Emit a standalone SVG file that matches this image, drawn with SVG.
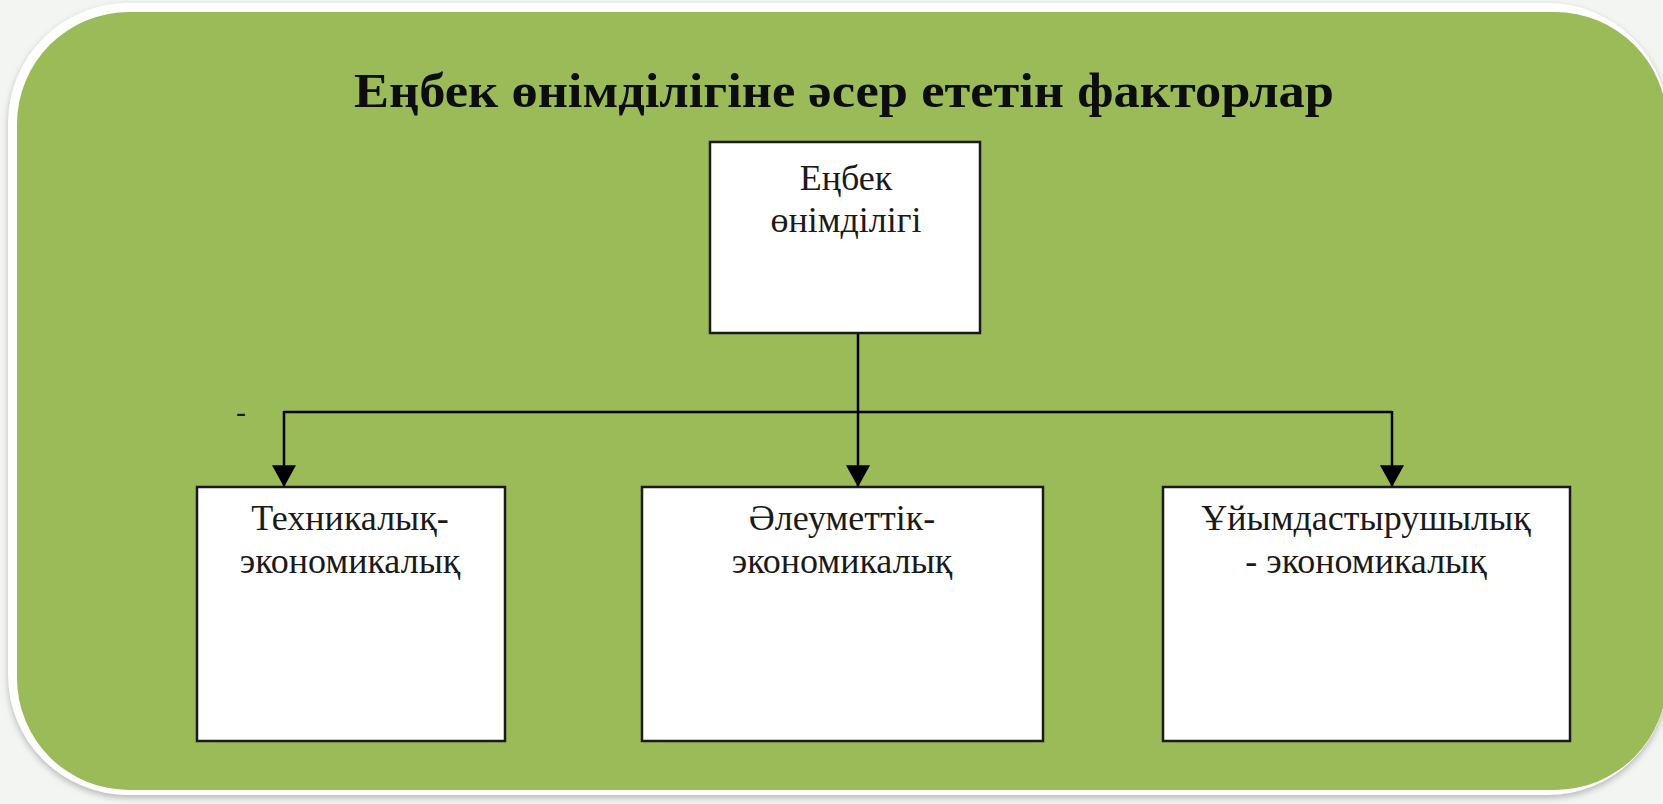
<svg xmlns="http://www.w3.org/2000/svg" width="1663" height="804" viewBox="0 0 1663 804">
<style>
.box{fill:#ffffff;stroke:#1a1a1a;stroke-width:2.5}
.lbl{font-family:"Liberation Serif","DejaVu Serif","Times New Roman",serif;font-size:36px;fill:#1a1a1a;text-anchor:middle}
.title{font-family:"Liberation Serif","DejaVu Serif","Times New Roman",serif;font-size:49px;font-weight:bold;fill:#0d0d0d;text-anchor:middle}
.conn{stroke:#000;stroke-width:2.5;fill:none}
</style>
<defs>
<marker id="arr" markerUnits="userSpaceOnUse" markerWidth="22" markerHeight="24" refX="20" refY="11" orient="auto" viewBox="0 0 20 22">
<path d="M0,0 L20,11 L0,22 Z" fill="#000"/>
</marker>
<filter id="sh" x="-5%" y="-5%" width="110%" height="110%">
<feGaussianBlur stdDeviation="3"/>
</filter>
</defs>
<rect x="0" y="0" width="1663" height="804" fill="#f3f5f2"/>
<rect x="8" y="6" width="1660" height="792" rx="120" fill="#b8bab8" filter="url(#sh)"/>
<rect x="8" y="3" width="1660" height="792" rx="120" fill="#ffffff"/>
<rect x="17" y="12" width="1650" height="778" rx="112" fill="#9bbb59"/>
<text class="title" x="844" y="107" textLength="980" lengthAdjust="spacingAndGlyphs">Еңбек өнімділігіне әсер ететін факторлар</text>
<g id="connectors">
<line class="conn" x1="858" y1="333" x2="858" y2="487" marker-end="url(#arr)"/>
<line class="conn" x1="284" y1="412" x2="1392" y2="412"/>
<line class="conn" x1="284" y1="411" x2="284" y2="487" marker-end="url(#arr)"/>
<line class="conn" x1="1392" y1="411" x2="1392" y2="487" marker-end="url(#arr)"/>
</g>
<text x="241" y="422" font-family="Liberation Serif, serif" font-size="30" fill="#1a1a1a" text-anchor="middle">-</text>
<g id="node-top">
<rect class="box" x="710" y="142" width="270" height="191"/>
<text class="lbl" x="846" y="190">Еңбек</text>
<text class="lbl" x="846" y="232">өнімділігі</text>
</g>
<g id="node-tech">
<rect class="box" x="197" y="487" width="308" height="254"/>
<text class="lbl" x="350" y="530">Техникалық-</text>
<text class="lbl" x="350" y="573">экономикалық</text>
</g>
<g id="node-social">
<rect class="box" x="642" y="487" width="401" height="254"/>
<text class="lbl" x="842" y="530">Әлеуметтік-</text>
<text class="lbl" x="842" y="573">экономикалық</text>
</g>
<g id="node-org">
<rect class="box" x="1163" y="487" width="407" height="254"/>
<text class="lbl" x="1366" y="530">Ұйымдастырушылық</text>
<text class="lbl" x="1366" y="573">- экономикалық</text>
</g>
</svg>
